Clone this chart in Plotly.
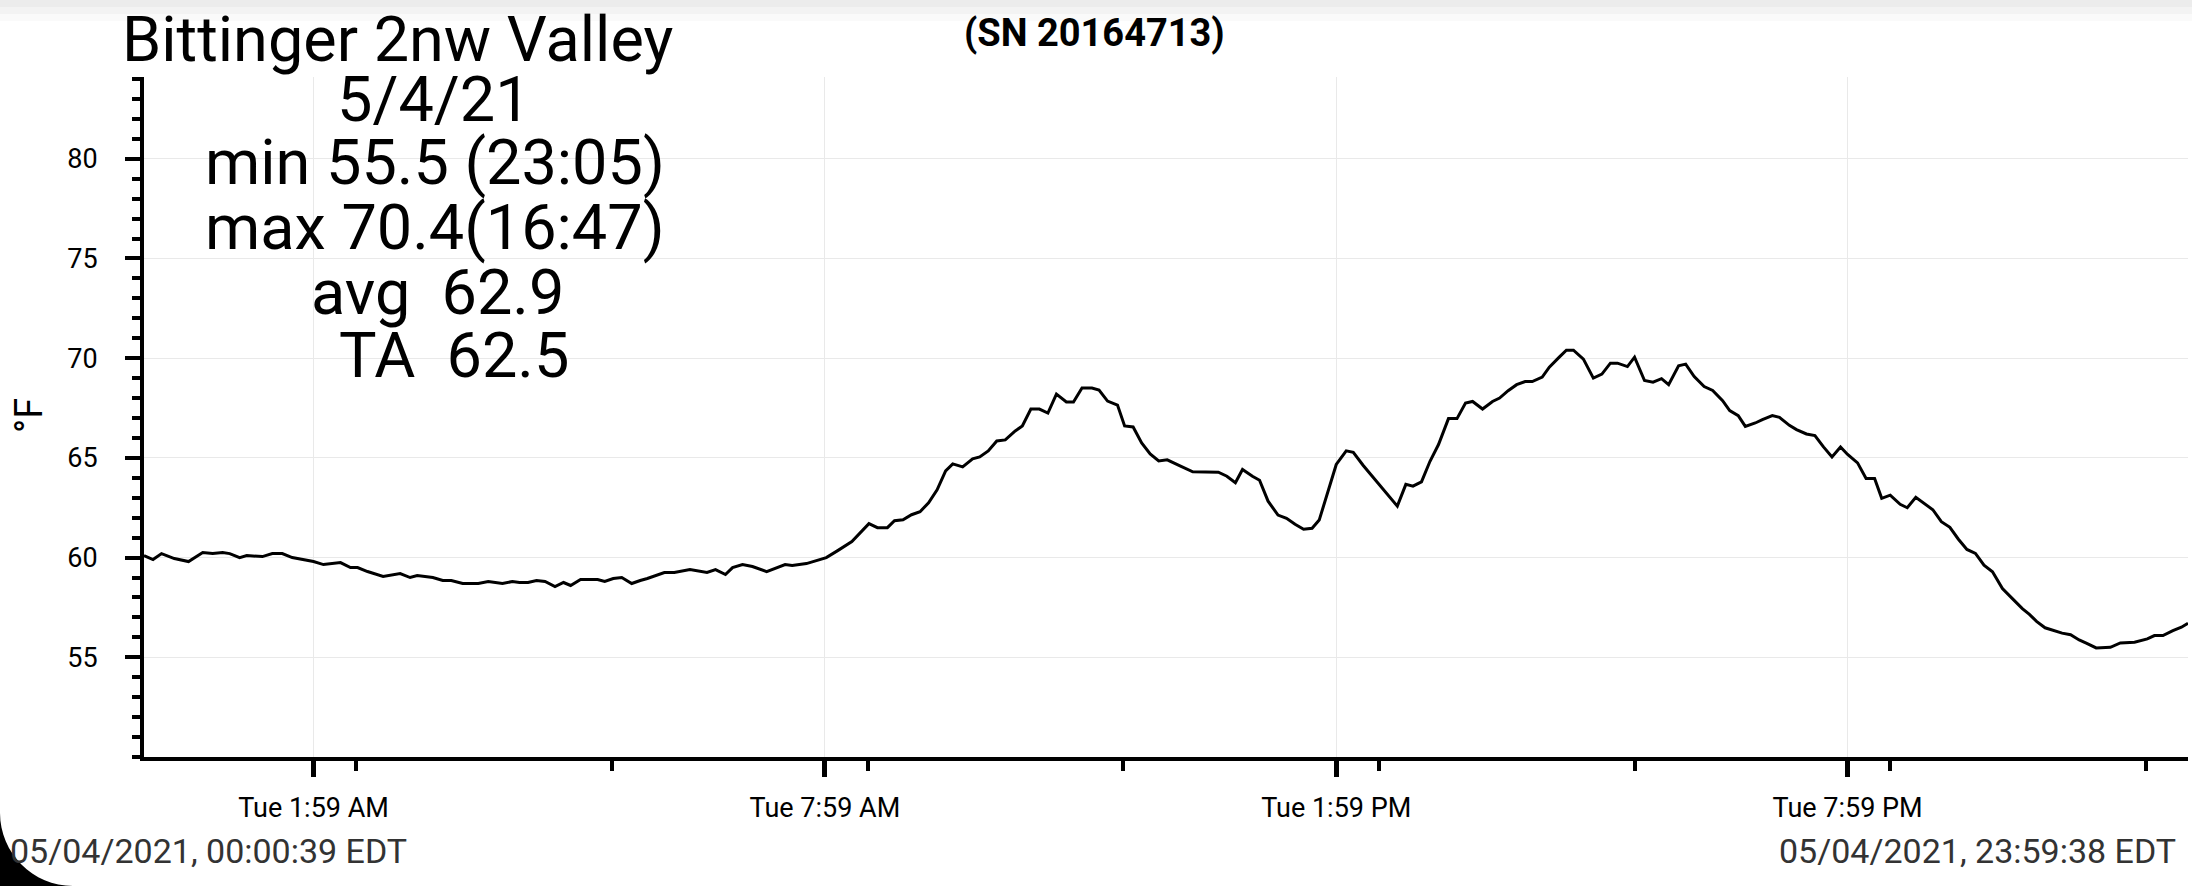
import pandas as pd
import plotly.graph_objects as go

# Logger readings, 5/4/21 (time of day, deg F)
times = [
    "00:00:39", "00:07", "00:13", "00:22", "00:32", "00:42", "00:49", "00:56", "01:01", "01:08",
    "01:13", "01:24", "01:31", "01:38", "01:45", "02:00", "02:07", "02:19", "02:26", "02:31",
    "02:38", "02:49", "03:01", "03:08", "03:13", "03:24", "03:31", "03:37", "03:45", "03:56",
    "04:03", "04:13", "04:20", "04:25", "04:31", "04:37", "04:43", "04:50", "04:56", "05:01",
    "05:08", "05:20", "05:25", "05:31", "05:37", "05:44", "05:50", "05:55", "06:07", "06:14",
    "06:25", "06:37", "06:43", "06:50", "06:55", "07:02", "07:09", "07:19", "07:32", "07:37",
    "07:47", "07:54", "08:01", "08:09", "08:19", "08:31", "08:37", "08:44", "08:49", "08:55",
    "09:01", "09:07", "09:13", "09:19", "09:25", "09:30", "09:37", "09:44", "09:49", "09:55",
    "10:01", "10:07", "10:14", "10:19", "10:25", "10:31", "10:37", "10:43", "10:50", "10:55",
    "11:01", "11:08", "11:13", "11:19", "11:26", "11:31", "11:37", "11:43", "11:49", "11:55",
    "12:01", "12:10", "12:19", "12:37", "12:43", "12:49", "12:54", "13:01", "13:06", "13:12",
    "13:19", "13:25", "13:31", "13:37", "13:43", "13:48", "13:54", "14:00", "14:07", "14:12",
    "14:19", "14:29", "14:36", "14:43", "14:49", "14:54", "15:00", "15:06", "15:12", "15:19",
    "15:25", "15:31", "15:36", "15:43", "15:50", "15:55", "16:01", "16:07", "16:13", "16:18",
    "16:25", "16:30", "16:37", "16:42", "16:47", "16:54", "17:01", "17:07", "17:13", "17:18",
    "17:25", "17:30", "17:37", "17:43", "17:49", "17:54", "18:01", "18:06", "18:12", "18:19",
    "18:25", "18:32", "18:37", "18:43", "18:48", "18:55", "19:00", "19:07", "19:12", "19:19",
    "19:24", "19:31", "19:37", "19:43", "19:49", "19:55", "20:00", "20:07", "20:13", "20:19",
    "20:24", "20:30", "20:37", "20:42", "20:48", "20:54", "21:00", "21:06", "21:12", "21:18",
    "21:24", "21:30", "21:36", "21:42", "21:49", "21:56", "22:03", "22:08", "22:13", "22:19",
    "22:25", "22:31", "22:37", "22:43", "22:48", "22:55", "23:05", "23:12", "23:22", "23:31",
    "23:36", "23:42", "23:49", "23:55", "23:59:38",
]
temps_f = [
    60.1, 59.9, 60.2, 59.95, 59.8, 60.25, 60.2, 60.25, 60.2, 60.0,
    60.1, 60.05, 60.2, 60.2, 60.0, 59.8, 59.65, 59.75, 59.5, 59.5,
    59.3, 59.05, 59.2, 59.0, 59.1, 59.0, 58.85, 58.85, 58.7, 58.7,
    58.8, 58.7, 58.8, 58.75, 58.75, 58.85, 58.8, 58.55, 58.75, 58.6,
    58.9, 58.9, 58.8, 58.95, 59.0, 58.7, 58.85, 58.95, 59.25, 59.25,
    59.4, 59.25, 59.4, 59.15, 59.5, 59.65, 59.55, 59.3, 59.65, 59.6,
    59.7, 59.85, 60.0, 60.35, 60.8, 61.7, 61.5, 61.5, 61.85, 61.9,
    62.15, 62.3, 62.75, 63.4, 64.35, 64.7, 64.55, 64.95, 65.05, 65.35,
    65.85, 65.9, 66.35, 66.6, 67.45, 67.45, 67.25, 68.2, 67.8, 67.8,
    68.5, 68.5, 68.4, 67.85, 67.65, 66.6, 66.55, 65.75, 65.2, 64.85,
    64.9, 64.6, 64.3, 64.28, 64.08, 63.75, 64.42, 64.08, 63.88, 62.83,
    62.13, 61.97, 61.67, 61.42, 61.47, 61.88, 63.25, 64.67, 65.35, 65.28,
    64.62, 63.75, 63.17, 62.58, 63.67, 63.58, 63.8, 64.83, 65.67, 66.97,
    66.97, 67.75, 67.83, 67.45, 67.83, 68.0, 68.37, 68.67, 68.83, 68.83,
    69.05, 69.55, 70.05, 70.4, 70.4, 69.95, 69.0, 69.2, 69.75, 69.75,
    69.58, 70.05, 68.88, 68.8, 68.97, 68.67, 69.62, 69.7, 69.08, 68.58,
    68.38, 67.87, 67.37, 67.12, 66.58, 66.75, 66.92, 67.12, 67.03, 66.63,
    66.42, 66.2, 66.12, 65.55, 65.05, 65.55, 65.17, 64.75, 63.97, 63.97,
    62.97, 63.13, 62.67, 62.5, 63.02, 62.7, 62.4, 61.8, 61.52, 60.92,
    60.41, 60.21, 59.62, 59.29, 58.45, 57.94, 57.44, 57.15, 56.8, 56.48,
    56.34, 56.21, 56.13, 55.87, 55.71, 55.47, 55.5, 55.72, 55.76, 55.92,
    56.09, 56.09, 56.34, 56.51, 56.71,
]

day = "2021-05-04"
x_start = "00:00:39"
x_end = "23:59:38"
tick_times = ["01:59:59", "07:59:59", "13:59:59", "19:59:59"]
tick_labels = ["Tue 1:59 AM", "Tue 7:59 AM", "Tue 1:59 PM", "Tue 7:59 PM"]
minor_times = ["02:30", "05:30", "08:30", "11:30", "14:30", "17:30", "20:30", "23:30"]

station = "Bittinger 2nw Valley"
serial = "(SN 20164713)"
summary = ["5/4/21", "min 55.5 (23:05)", "max 70.4(16:47)", "avg  62.9", "TA  62.5"]
start_stamp = "05/04/2021, 00:00:39 EDT"
end_stamp = "05/04/2021, 23:59:38 EDT"

W, H = 2192, 886
L, R, T, B = 144, 2188, 77, 757


def px(x):
    return (x - L) / (R - L)


def py(y):
    return (B - y) / (B - T)


dt = pd.to_datetime([f"{day} {t}" for t in times], format="mixed")

fig = go.Figure()
fig.add_trace(
    go.Scatter(
        x=dt,
        y=temps_f,
        mode="lines",
        line={"color": "black", "width": 3},
        showlegend=False,
    )
)

fig.update_layout(
    width=W,
    height=H,
    margin={"l": L, "r": W - R, "t": T, "b": H - B},
    paper_bgcolor="white",
    plot_bgcolor="white",
    font={"family": "Roboto", "color": "black"},
)

fig.update_xaxes(
    range=[f"{day} {x_start}", f"{day} {x_end}"],
    tickmode="array",
    tickvals=[f"{day} {t}" for t in tick_times],
    ticktext=tick_labels,
    ticks="outside",
    ticklen=16,
    tickwidth=5,
    tickcolor="black",
    ticklabelstandoff=8,
    tickfont={"size": 27},
    showline=True,
    linecolor="black",
    linewidth=4,
    showgrid=True,
    gridcolor="#e9e9e9",
    gridwidth=1,
    zeroline=False,
    minor={
        "tickmode": "array",
        "tickvals": [f"{day} {t}" for t in minor_times],
        "ticks": "outside",
        "ticklen": 10,
        "tickwidth": 4,
        "tickcolor": "black",
        "showgrid": False,
    },
)

fig.update_yaxes(
    range=[50, 84.1],
    tickmode="array",
    tickvals=[55, 60, 65, 70, 75, 80],
    ticks="outside",
    ticklen=15,
    tickwidth=4,
    tickcolor="black",
    ticklabelstandoff=22,
    tickfont={"size": 27},
    showline=True,
    linecolor="black",
    linewidth=4,
    showgrid=True,
    gridcolor="#e9e9e9",
    gridwidth=1,
    zeroline=False,
    minor={
        "dtick": 1,
        "ticks": "outside",
        "ticklen": 8,
        "tickwidth": 4,
        "tickcolor": "black",
        "showgrid": False,
    },
)

ann = []
ann.append(dict(text=station, x=px(120), y=py(1), xanchor="left", yanchor="top",
                font={"size": 63}))
ann.append(dict(text=f"<b>{serial}</b>", x=px(1094), y=py(33), xanchor="center", yanchor="middle",
                font={"size": 38}))
line_y = [99, 162, 227, 292, 355]
line_x = [434, 435, 435, 437, 454]
for txt, lx, ly in zip(summary, line_x, line_y):
    ann.append(dict(text=txt, x=px(lx), y=py(ly), xanchor="center", yanchor="middle",
                    font={"size": 63}))
ann.append(dict(text="°F", x=px(29), y=py(416), textangle=-90, xanchor="center", yanchor="middle",
                font={"size": 38}))
ann.append(dict(text=start_stamp, x=px(8), y=py(851), xanchor="left", yanchor="middle",
                font={"size": 34, "color": "#333333"}))
ann.append(dict(text=end_stamp, x=px(2178), y=py(851), xanchor="right", yanchor="middle",
                font={"size": 34, "color": "#333333"}))
for a in ann:
    a.update(xref="paper", yref="paper", showarrow=False)
fig.update_layout(annotations=ann)

# faint shadow along the top edge
for y0, y1, col in [(0, 7, "#ececec"), (7, 14, "#f3f3f3"), (14, 21, "#fafafa")]:
    fig.add_shape(type="rect", xref="paper", yref="paper",
                  x0=px(0), x1=px(W), y0=py(y1), y1=py(y0),
                  fillcolor=col, line={"width": 0}, layer="below")

# rounded screen corner, bottom left
fig.add_shape(
    type="path",
    xref="paper",
    yref="paper",
    path=(f"M {px(0)} {py(813)} C {px(0)} {py(853)} {px(33)} {py(886)} {px(73)} {py(886)} "
          f"L {px(0)} {py(886)} Z"),
    fillcolor="black",
    line={"width": 0},
    layer="above",
)

fig.write_html(
    "out.html",
    config={"displayModeBar": False},
    post_script="document.body.style.margin='0';",
)
